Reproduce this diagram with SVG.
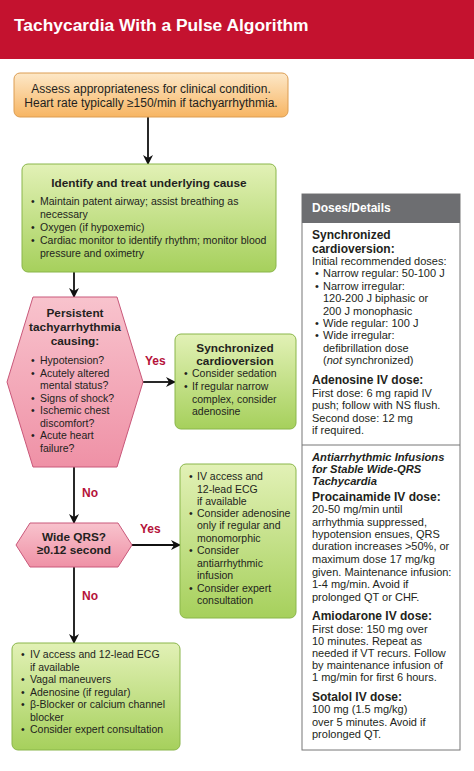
<svg xmlns="http://www.w3.org/2000/svg" width="474" height="771" viewBox="0 0 474 771">
<defs>
<linearGradient id="gOr" x1="0" y1="0" x2="0" y2="1"><stop offset="0" stop-color="#fde8c8"/><stop offset="1" stop-color="#f7b563"/></linearGradient>
<linearGradient id="gGr" x1="0" y1="0" x2="0" y2="1"><stop offset="0" stop-color="#e2f1b6"/><stop offset="1" stop-color="#a6d05c"/></linearGradient>
<linearGradient id="gPk" x1="0" y1="0" x2="0" y2="1"><stop offset="0" stop-color="#f8c3cd"/><stop offset="1" stop-color="#ef91a6"/></linearGradient>
<marker id="arr" viewBox="0 0 10 10" refX="9" refY="5" markerWidth="10" markerHeight="10" markerUnits="userSpaceOnUse" orient="auto">
<path d="M0,0 L10,5 L0,10 L3,5 Z" fill="#111"/>
</marker>
<style>
text{font-family:"Liberation Sans",Arial,sans-serif;fill:#231f20}
.b{font-size:10.5px}
.t{font-size:11.8px;font-weight:bold}
.p{font-size:11px}
.ph{font-size:12px;font-weight:bold}
.it{font-size:11.2px;font-weight:bold;font-style:italic}
.lab{font-size:12px;font-weight:bold;fill:#b5123a}
.gr{fill:url(#gGr);stroke:#8ab64a;stroke-width:1}
.conn{stroke:#111;stroke-width:1.8;fill:none;marker-end:url(#arr)}
</style>
</defs>
<rect x="0" y="0" width="474" height="771" fill="#fff"/>
<g id="header">
<rect x="0" y="0" width="474" height="59" fill="#c4122f"/>
<text x="14" y="31" style="font-size:17.4px;font-weight:bold;fill:#fff">Tachycardia With a Pulse Algorithm</text>
</g>
<g id="connectors">
<line class="conn" x1="148" y1="117" x2="148" y2="164"/>
<line class="conn" x1="74" y1="272" x2="74" y2="297"/>
<line class="conn" x1="143" y1="382" x2="175" y2="382"/>
<line class="conn" x1="74" y1="467" x2="74" y2="523"/>
<line class="conn" x1="132" y1="545" x2="180" y2="545"/>
<line class="conn" x1="74" y1="567" x2="74" y2="643"/>
<text class="lab" x="145" y="365">Yes</text>
<text class="lab" x="82" y="497">No</text>
<text class="lab" x="140" y="533">Yes</text>
<text class="lab" x="82" y="600">No</text>
</g>
<g id="assess">
<rect x="14" y="73" width="274" height="44" rx="6" fill="url(#gOr)" stroke="#dc9d52"/>
<text x="151" y="93" text-anchor="middle" style="font-size:12px">Assess appropriateness for clinical condition.</text>
<text x="151" y="107" text-anchor="middle" style="font-size:12px">Heart rate typically ≥150/min if tachyarrhythmia.</text>
</g>
<g id="identify">
<rect class="gr" x="22" y="164" width="254" height="108" rx="6"/>
<text class="t" x="149" y="187" text-anchor="middle">Identify and treat underlying cause</text>
<text class="b" x="31" y="205">•</text><text class="b" x="40" y="205">Maintain patent airway; assist breathing as</text>
<text class="b" x="40" y="218">necessary</text>
<text class="b" x="31" y="231">•</text><text class="b" x="40" y="231">Oxygen (if hypoxemic)</text>
<text class="b" x="31" y="244">•</text><text class="b" x="40" y="244">Cardiac monitor to identify rhythm; monitor blood</text>
<text class="b" x="40" y="257">pressure and oximetry</text>
</g>
<g id="persistent">
<polygon points="33,297 117,297 143,382 117,467 33,467 7,382" fill="url(#gPk)" stroke="#c9587a"/>
<text class="t" x="75" y="317" text-anchor="middle">Persistent</text>
<text class="t" x="75" y="331" text-anchor="middle">tachyarrhythmia</text>
<text class="t" x="75" y="345" text-anchor="middle">causing:</text>
<text class="b" x="31" y="364">•</text><text class="b" x="40" y="364">Hypotension?</text>
<text class="b" x="31" y="377">•</text><text class="b" x="40" y="377">Acutely altered</text>
<text class="b" x="40" y="389">mental status?</text>
<text class="b" x="31" y="402">•</text><text class="b" x="40" y="402">Signs of shock?</text>
<text class="b" x="31" y="414">•</text><text class="b" x="40" y="414">Ischemic chest</text>
<text class="b" x="40" y="427">discomfort?</text>
<text class="b" x="31" y="439">•</text><text class="b" x="40" y="439">Acute heart</text>
<text class="b" x="40" y="452">failure?</text>
</g>
<g id="cardioversion">
<rect class="gr" x="175" y="334" width="121" height="95" rx="6"/>
<text class="t" x="235" y="352" text-anchor="middle">Synchronized</text>
<text class="t" x="235" y="365" text-anchor="middle">cardioversion</text>
<text class="b" x="184" y="377">•</text><text class="b" x="192" y="377">Consider sedation</text>
<text class="b" x="184" y="390">•</text><text class="b" x="192" y="390">If regular narrow</text>
<text class="b" x="192" y="403">complex, consider</text>
<text class="b" x="192" y="415">adenosine</text>
</g>
<g id="wideqrs">
<polygon points="30,523 118,523 132,545 118,567 30,567 16,545" fill="url(#gPk)" stroke="#c9587a"/>
<text class="t" x="74" y="541" text-anchor="middle">Wide QRS?</text>
<text class="t" x="74" y="554" text-anchor="middle">≥0.12 second</text>
</g>
<g id="widecare">
<rect class="gr" x="180" y="464" width="116" height="154" rx="6"/>
<text class="b" x="189" y="480">•</text><text class="b" x="197" y="480">IV access and</text>
<text class="b" x="197" y="493">12-lead ECG</text>
<text class="b" x="197" y="505">if available</text>
<text class="b" x="189" y="517">•</text><text class="b" x="197" y="517">Consider adenosine</text>
<text class="b" x="197" y="529">only if regular and</text>
<text class="b" x="197" y="542">monomorphic</text>
<text class="b" x="189" y="554">•</text><text class="b" x="197" y="554">Consider</text>
<text class="b" x="197" y="567">antiarrhythmic</text>
<text class="b" x="197" y="579">infusion</text>
<text class="b" x="189" y="592">•</text><text class="b" x="197" y="592">Consider expert</text>
<text class="b" x="197" y="604">consultation</text>
</g>
<g id="narrowcare">
<rect class="gr" x="12" y="643" width="168" height="107" rx="6"/>
<text class="b" x="21" y="658">•</text><text class="b" x="30" y="658">IV access and 12-lead ECG</text>
<text class="b" x="30" y="671">if available</text>
<text class="b" x="21" y="683">•</text><text class="b" x="30" y="683">Vagal maneuvers</text>
<text class="b" x="21" y="696">•</text><text class="b" x="30" y="696">Adenosine (if regular)</text>
<text class="b" x="21" y="708">•</text><text class="b" x="30" y="708">β-Blocker or calcium channel</text>
<text class="b" x="30" y="721">blocker</text>
<text class="b" x="21" y="733">•</text><text class="b" x="30" y="733">Consider expert consultation</text>
</g>
<g id="doses">
<rect x="302" y="194" width="158" height="556" fill="#fff" stroke="#777" stroke-width="1"/>
<rect x="302" y="194" width="158" height="29" fill="#6d6e71"/>
<line x1="302" y1="445" x2="460" y2="445" stroke="#777" stroke-width="1"/>
<text class="ph" x="312" y="212" style="fill:#fff">Doses/Details</text>
<text class="ph" x="312" y="239">Synchronized</text>
<text class="ph" x="312" y="253">cardioversion:</text>
<text class="p" x="312" y="265">Initial recommended doses:</text>
<text class="p" x="315" y="277">•</text><text class="p" x="323" y="277">Narrow regular: 50-100 J</text>
<text class="p" x="315" y="290">•</text><text class="p" x="323" y="290">Narrow irregular:</text>
<text class="p" x="323" y="302">120-200 J biphasic or</text>
<text class="p" x="323" y="315">200 J monophasic</text>
<text class="p" x="315" y="327">•</text><text class="p" x="323" y="327">Wide regular: 100 J</text>
<text class="p" x="315" y="339">•</text><text class="p" x="323" y="339">Wide irregular:</text>
<text class="p" x="323" y="352">defibrillation dose</text>
<text class="p" x="323" y="364">(<tspan font-style="italic">not</tspan> synchronized)</text>
<text class="ph" x="312" y="384">Adenosine IV dose:</text>
<text class="p" x="312" y="397">First dose: 6 mg rapid IV</text>
<text class="p" x="312" y="409">push; follow with NS flush.</text>
<text class="p" x="312" y="422">Second dose: 12 mg</text>
<text class="p" x="312" y="434">if required.</text>
<text class="it" x="312" y="461">Antiarrhythmic Infusions</text>
<text class="it" x="312" y="473">for Stable Wide-QRS</text>
<text class="it" x="312" y="485">Tachycardia</text>
<text class="ph" x="312" y="501">Procainamide IV dose:</text>
<text class="p" x="312" y="513">20-50 mg/min until</text>
<text class="p" x="312" y="526">arrhythmia suppressed,</text>
<text class="p" x="312" y="538">hypotension ensues, QRS</text>
<text class="p" x="312" y="550">duration increases &gt;50%, or</text>
<text class="p" x="312" y="563">maximum dose 17 mg/kg</text>
<text class="p" x="312" y="576">given. Maintenance infusion:</text>
<text class="p" x="312" y="588">1-4 mg/min. Avoid if</text>
<text class="p" x="312" y="601">prolonged QT or CHF.</text>
<text class="ph" x="312" y="620">Amiodarone IV dose:</text>
<text class="p" x="312" y="633">First dose: 150 mg over</text>
<text class="p" x="312" y="645">10 minutes. Repeat as</text>
<text class="p" x="312" y="657">needed if VT recurs. Follow</text>
<text class="p" x="312" y="669">by maintenance infusion of</text>
<text class="p" x="312" y="681">1 mg/min for first 6 hours.</text>
<text class="ph" x="312" y="701">Sotalol IV dose:</text>
<text class="p" x="312" y="713">100 mg (1.5 mg/kg)</text>
<text class="p" x="312" y="726">over 5 minutes. Avoid if</text>
<text class="p" x="312" y="738">prolonged QT.</text>
</g>
</svg>
